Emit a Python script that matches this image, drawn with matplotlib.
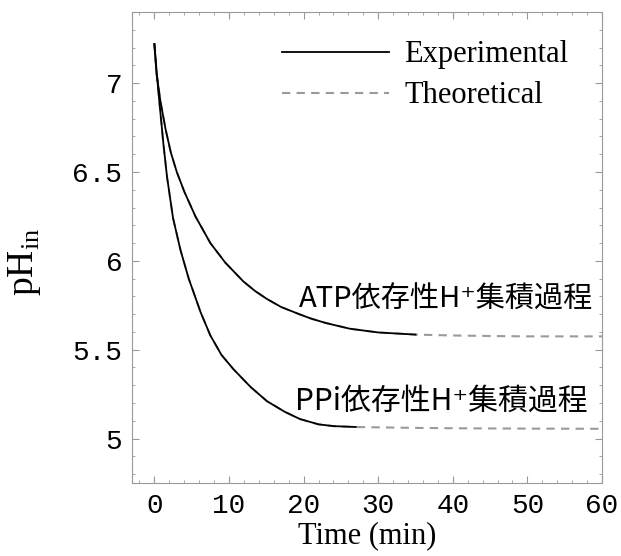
import matplotlib
matplotlib.use("Agg")
import matplotlib.pyplot as plt
from matplotlib.ticker import MultipleLocator

plt.rcParams['mathtext.fontset'] = 'custom'
plt.rcParams['mathtext.rm'] = 'Liberation Serif'

# ATP-dependent H+ accumulation
atp_exp_t = [0, 0.3, 0.8, 1.5, 2.2, 3.0, 4.0, 5.5, 7.5, 9.5, 11.9, 13.5, 15.1, 17, 19.4, 21, 23, 26.2, 30, 35]
atp_exp_ph = [7.22, 7.05, 6.90, 6.74, 6.61, 6.50, 6.39, 6.25, 6.10, 5.99, 5.885, 5.83, 5.785, 5.74, 5.70,
              5.675, 5.65, 5.618, 5.597, 5.585]
atp_th_t = atp_exp_t + [40, 45, 50, 55, 60]
atp_th_ph = atp_exp_ph + [5.58, 5.577, 5.575, 5.575, 5.575]

# PPi-dependent H+ accumulation
ppi_exp_t = [0, 0.3, 0.7, 1.2, 1.7, 2.5, 3.5, 4.6, 6.2, 7.5, 9, 10.6, 12.9, 15.1, 17.5, 19.5, 22, 24, 27]
ppi_exp_ph = [7.22, 7.06, 6.88, 6.66, 6.47, 6.24, 6.06, 5.90, 5.71, 5.58, 5.47, 5.39, 5.29, 5.21, 5.15,
              5.11, 5.08, 5.07, 5.065]
ppi_th_t = ppi_exp_t + [35, 40, 50, 60]
ppi_th_ph = ppi_exp_ph + [5.06, 5.058, 5.056, 5.055]

xticks = [0, 10, 20, 30, 40, 50, 60]
yticks = [5, 5.5, 6, 6.5, 7]
ytick_labels = ['5', '5.5', '6', '6.5', '7']

fig = plt.figure(figsize=(6.21, 5.56), dpi=100)
ax = fig.add_axes([0.2126, 0.1313, 0.7568, 0.8471])

th_style = dict(color='#9a9a9a', lw=1.5, ls=(0, (4, 3)), solid_joinstyle='round')
ex_style = dict(color='black', lw=1.3, solid_joinstyle='round')

ax.plot(atp_th_t, atp_th_ph, **th_style, label='Theoretical')
ax.plot(ppi_th_t, ppi_th_ph, **th_style)
ax.plot(atp_exp_t, atp_exp_ph, **ex_style, label='Experimental')
ax.plot(ppi_exp_t, ppi_exp_ph, **ex_style)

ax.set_xlim(-3, 60)
ax.set_ylim(4.75, 7.4)

ax.set_xticks(xticks)
ax.set_yticks(yticks)
ax.set_yticklabels(ytick_labels)
ax.xaxis.set_minor_locator(MultipleLocator(2))
ax.yaxis.set_minor_locator(MultipleLocator(0.1))
ax.tick_params(which='both', direction='in', top=True, right=True, color='#999999')
ax.tick_params(which='major', length=5, width=0.8, labelsize=20, pad=7)
ax.tick_params(which='minor', length=2.5, width=0.6)
for lab in ax.get_xticklabels() + ax.get_yticklabels():
    lab.set_family('Liberation Mono')
for sp in ax.spines.values():
    sp.set_color('#999999')
    sp.set_linewidth(0.8)

ax.set_xlabel('Time (min)', family='Liberation Serif', fontsize=22, labelpad=2)
ax.set_ylabel(r'$\mathrm{pH}_{\mathrm{in}}$', fontsize=27, labelpad=12)
ax.yaxis.set_label_coords(-0.19, 0.47)

cjk = ['Noto Sans CJK JP', 'DejaVu Sans']
ax.text(19.3, 5.78, 'ATP依存性H⁺集積過程', family=cjk, fontsize=21, va='center', ha='left')
ax.text(18.9, 5.21, 'PPi依存性H⁺集積過程', family=cjk, fontsize=21.5, va='center', ha='left')

handles, labels = ax.get_legend_handles_labels()
leg = ax.legend(handles[::-1], labels[::-1], loc='upper left', bbox_to_anchor=(0.319, 0.94),
                borderaxespad=0, borderpad=0,
                frameon=False, handlelength=3.5, handletextpad=0.5, labelspacing=0.4,
                prop={'family': 'Liberation Serif', 'size': 22})

fig.savefig('out.png', dpi=100)
